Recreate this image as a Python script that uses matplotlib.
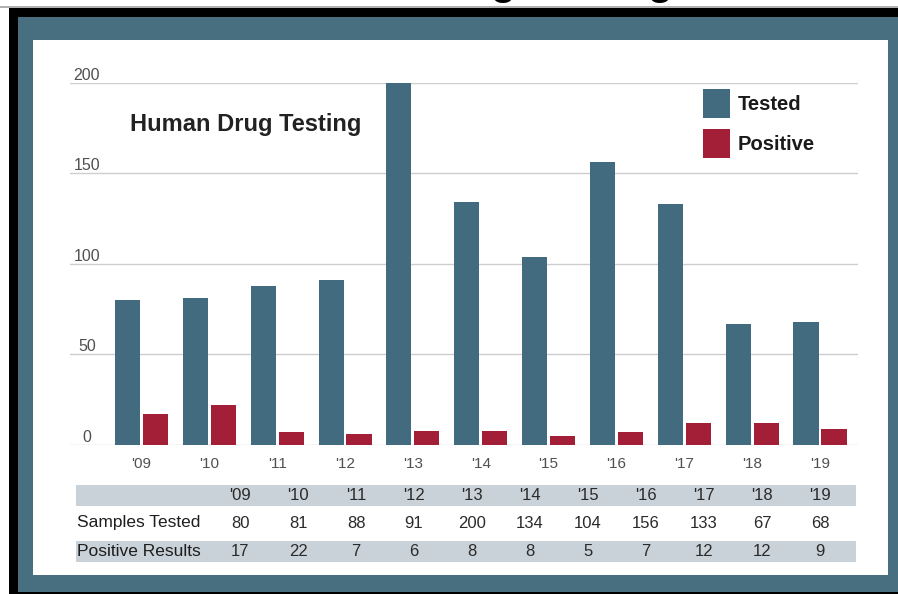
import numpy as np
import matplotlib
matplotlib.use('Agg')
import matplotlib.pyplot as plt
from matplotlib.patches import Rectangle, Patch

# data
years = ["'09", "'10", "'11", "'12", "'13", "'14", "'15", "'16", "'17", "'18", "'19"]
tested = [80, 81, 88, 91, 200, 134, 104, 156, 133, 67, 68]
positive = [17, 22, 7, 6, 8, 8, 5, 7, 12, 12, 9]
y_ticks = [0, 50, 100, 150, 200]

tested_c = '#436b7f'
positive_c = '#a21f37'
frame_c = '#476f80'
band_c = '#c9d2d8'

plt.rcParams['font.family'] = 'Liberation Sans'

W, H = 898, 594
fig = plt.figure(figsize=(W / 100, H / 100), dpi=100)
fig.patch.set_facecolor('white')


def fx(x):
    return x / W


def fy(y):
    return 1 - y / H


def rect(x0, y0, x1, y1, color):
    fig.patches.append(Rectangle((fx(x0), fy(y1)), fx(x1) - fx(x0), fy(y0) - fy(y1),
                                 transform=fig.transFigure, facecolor=color,
                                 edgecolor='none', zorder=-1))


# page background / frame
rect(0, 6.5, 898, 7.5, '#b0b0b0')
rect(9, 7.5, 898, 594, 'black')
rect(18, 17, 898, 592, frame_c)
rect(33, 40, 888, 575, 'white')

# heading of the page above the frame (cut off in the source image)
fig.text(fx(266), fy(-6), 'Human Drug Testing', fontsize=30, weight='bold',
         ha='left', va='baseline', color='black')

# main bar chart
ax = fig.add_axes([fx(70), fy(445), fx(858) - fx(70), fy(82.7) - fy(445)])
ax.set_facecolor('none')
x = np.arange(len(years))
ax.bar(x - 0.206, tested, width=0.37, color=tested_c, zorder=2)
ax.bar(x + 0.206, positive, width=0.37, color=positive_c, zorder=2)
ax.set_xlim(-1.054, 10.56)
ax.set_ylim(0, 200)
ax.set_yticks(y_ticks)
ax.set_xticks(x, years)
ax.grid(axis='y', color='#cdcdcd', lw=1, zorder=0)
ax.set_axisbelow(True)
for s in ax.spines.values():
    s.set_visible(False)
ax.tick_params(axis='y', length=0, pad=-12.2, labelsize=11.5, labelcolor='#505050')
ax.tick_params(axis='x', length=0, pad=8.5, labelsize=11, labelcolor='#505050')
for lbl in ax.get_yticklabels():
    lbl.set_ha('center')
    lbl.set_va('bottom')

fig.text(fx(130), fy(125), 'Human Drug Testing', fontsize=17, weight='bold',
         ha='left', va='center', color='#222222')

fig.legend(handles=[Patch(facecolor=tested_c), Patch(facecolor=positive_c)],
           labels=['Tested', 'Positive'], loc='upper left',
           bbox_to_anchor=(fx(703), fy(89)), frameon=False, borderpad=0,
           borderaxespad=0, handlelength=1.35, handleheight=1.84,
           handletextpad=0.36, labelspacing=0.55,
           prop={'size': 14.5, 'weight': 'bold'}, labelcolor='#1a1a1a')

# data table under the chart
rect(76, 485, 856, 506, band_c)
rect(76, 541, 856, 562, band_c)
cols = np.linspace(240, 820, len(years))
fig.text(fx(77), fy(523), 'Samples Tested', fontsize=12.5,
         ha='left', va='center', color='#1e1e1e')
fig.text(fx(77), fy(551.5), 'Positive Results', fontsize=12.5,
         ha='left', va='center', color='#1e1e1e')
for cx, yr, t, p in zip(cols, years, tested, positive):
    fig.text(fx(cx), fy(495.5), yr, fontsize=12,
             ha='center', va='center', color='#2a2a2a')
    fig.text(fx(cx), fy(523), str(t), fontsize=12,
             ha='center', va='center', color='#2a2a2a')
    fig.text(fx(cx), fy(551.5), str(p), fontsize=12,
             ha='center', va='center', color='#2a2a2a')

fig.savefig('out.png', dpi=100)
